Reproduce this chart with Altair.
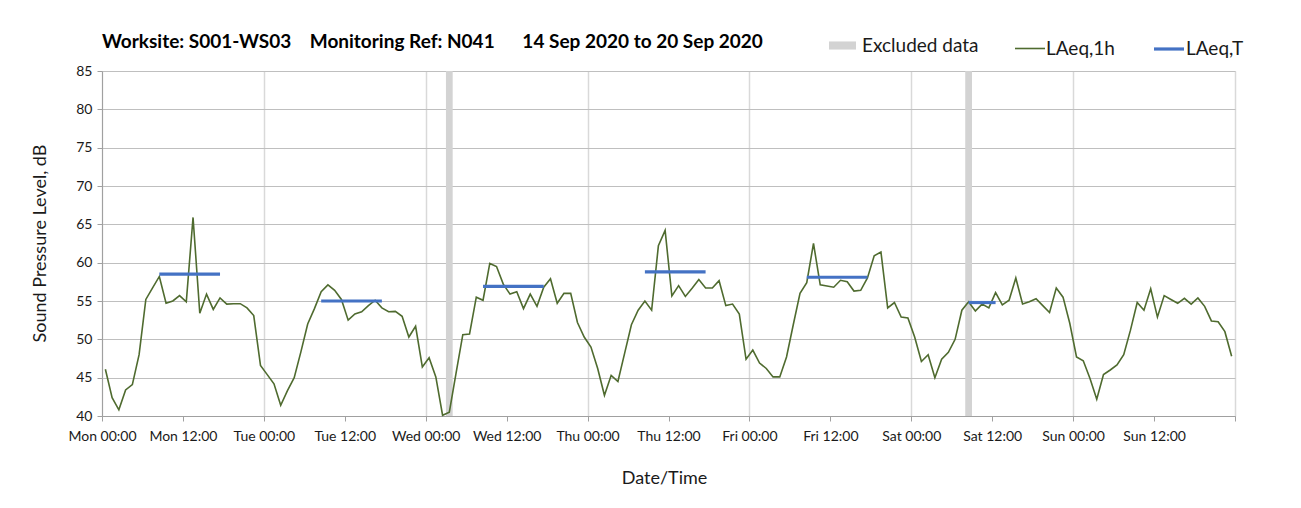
import altair as alt
import pandas as pd

# Hourly LAeq,1h values (dB), Mon 14 Sep 2020 00:00 .. Sun 20 Sep 2020 23:00
mon = [46.1, 42.4, 40.8, 43.4, 44.1, 48.0, 55.2, 56.7, 58.2, 54.7, 55.0, 55.7,
       54.9, 65.9, 53.4, 55.9, 53.9, 55.4, 54.6, 54.65, 54.65, 54.1, 53.1, 46.6]
tue = [45.4, 44.2, 41.4, 43.3, 45.0, 48.4, 52.0, 54.0, 56.2, 57.1, 56.4, 55.2,
       52.5, 53.3, 53.6, 54.4, 55.1, 54.1, 53.6, 53.65, 53.0, 50.3, 51.7, 46.4]
wed = [47.6, 45.1, 40.1, 40.5, 45.6, 50.6, 50.7, 55.5, 55.1, 59.9, 59.5, 57.2,
       55.9, 56.2, 54.0, 55.9, 54.3, 56.8, 57.9, 54.7, 56.0, 56.0, 52.2, 50.3]
thu = [49.0, 46.2, 42.7, 45.3, 44.5, 48.2, 51.9, 53.8, 55.0, 53.8, 62.2, 64.2,
       55.65, 57.0, 55.6, 56.65, 57.8, 56.7, 56.7, 57.65, 54.4, 54.6, 53.3, 47.4]
fri = [48.6, 46.9, 46.2, 45.1, 45.1, 47.7, 51.9, 56.0, 57.4, 62.5, 57.1, 56.95,
       56.8, 57.7, 57.5, 56.3, 56.4, 58.0, 60.9, 61.4, 54.1, 54.8, 52.9, 52.8]
sat = [50.3, 47.1, 48.0, 45.0, 47.4, 48.3, 50.0, 53.8, 54.9, 53.7, 54.6, 54.1,
       56.1, 54.5, 55.1, 58.0, 54.6, 54.9, 55.3, 54.4, 53.5, 56.7, 55.5, 52.1]
sun = [47.7, 47.2, 44.9, 42.2, 45.4, 46.0, 46.65, 48.0, 51.2, 54.8, 53.8, 56.6,
       52.9, 55.7, 55.2, 54.7, 55.35, 54.6, 55.4, 54.3, 52.4, 52.3, 51.0, 47.8]
hourly_levels = mon + tue + wed + thu + fri + sat + sun
hourly_times = pd.date_range("2020-09-14 00:30", periods=len(hourly_levels), freq="h")

# LAeq,T daytime periods (drawn across the hourly points of each period)
period_start = ["2020-09-14T08:30:00", "2020-09-15T08:30:00", "2020-09-16T08:30:00",
                "2020-09-17T08:30:00", "2020-09-18T08:30:00", "2020-09-19T08:30:00"]
period_end = ["2020-09-14T17:30:00", "2020-09-15T17:30:00", "2020-09-16T17:30:00",
              "2020-09-17T17:30:00", "2020-09-18T17:30:00", "2020-09-19T12:30:00"]
period_levels = [58.5, 55.0, 56.9, 58.8, 58.1, 54.8]

# Excluded data hours
excl_start = ["2020-09-16T03:00:00", "2020-09-19T08:00:00"]
excl_end = ["2020-09-16T04:00:00", "2020-09-19T09:00:00"]

y_ticks = [40, 45, 50, 55, 60, 65, 70, 75, 80, 85]
x_ticks = [alt.DateTime(year=2020, month=9, date=14 + k // 2, hours=12 * (k % 2)) for k in range(15)]

FONT = "Lato"
GREEN = "#4F6B2F"
BLUE = "#4472C4"
GREY = "#D3D3D3"

hourly = pd.DataFrame({"start": hourly_times, "level": hourly_levels, "series": "LAeq,1h"})
periods = pd.DataFrame({"start": period_start, "end": period_end, "level": period_levels,
                        "series": "LAeq,T"})
excluded = pd.DataFrame({"start": excl_start, "end": excl_end, "label": "Excluded data"})

x_axis = alt.Axis(
    title="Date/Time",
    values=x_ticks,
    labelExpr="date(datum.value) == 21 ? '' : timeFormat(datum.value, '%a %H:%M')",
    labelFont=FONT, labelFontSize=14, labelColor="#1a1a1a",
    labelFlush=False, labelOverlap=False, labelPadding=8,
    tickSize=5, tickColor="#A0A0A0", domainColor="#A0A0A0",
    grid=True,
    gridColor=alt.condition("hours(datum.value) == 0", alt.value("#D9D9D9"), alt.value("rgba(0,0,0,0)")),
    gridWidth=1.5,
    titleFont=FONT, titleFontSize=18, titleFontWeight="normal", titleColor="#1a1a1a",
    titleBaseline="middle", titleY=62, titleX=562,
)
x_scale = alt.Scale(domain=[alt.DateTime(year=2020, month=9, date=14),
                            alt.DateTime(year=2020, month=9, date=21)])
y_axis = alt.Axis(
    title="Sound Pressure Level, dB",
    values=y_ticks,
    labelFont=FONT, labelFontSize=14, labelColor="#1a1a1a", labelPadding=5,
    tickSize=5, tickColor="#A0A0A0", domainColor="#A0A0A0",
    gridColor="#BFBFBF", gridWidth=1.2,
    titleFont=FONT, titleFontSize=18, titleFontWeight="normal", titleColor="#1a1a1a",
    titleX=-62, titleY=172, titleBaseline="middle", titleAlign="center",
)
y_scale = alt.Scale(domain=[40, 85], nice=False, zero=False)

line_legend = alt.Legend(
    orient="none", legendX=912, legendY=-39, direction="horizontal", title=None,
    symbolType="stroke", symbolSize=900, labelFont=FONT, labelFontSize=19,
    labelColor="#1a1a1a", labelOffset=0, columnPadding=32, padding=0,
)
series_domain = ["LAeq,1h", "LAeq,T"]
color_scale = alt.Scale(domain=series_domain, range=[GREEN, BLUE])
width_scale = alt.Scale(domain=series_domain, range=[1.6, 3.2])

bands = alt.Chart(excluded).mark_rect().encode(
    x=alt.X("start:T", scale=x_scale, axis=x_axis),
    x2="end:T",
    fill=alt.Fill("label:N", scale=alt.Scale(domain=["Excluded data"], range=[GREY]),
                  legend=alt.Legend(orient="none", legendX=727, legendY=-39, title=None,
                                    symbolType="M-1,-0.3H1V0.3H-1Z", symbolSize=729,
                                    symbolStrokeWidth=0, labelFont=FONT, labelFontSize=19,
                                    labelColor="#1a1a1a", labelOffset=6, padding=0)),
)

line = alt.Chart(hourly).mark_line().encode(
    x=alt.X("start:T", scale=x_scale, axis=x_axis),
    y=alt.Y("level:Q", scale=y_scale, axis=y_axis),
    color=alt.Color("series:N", scale=color_scale, legend=line_legend),
    strokeWidth=alt.StrokeWidth("series:O", scale=width_scale, legend=line_legend),
)

rules = alt.Chart(periods).mark_rule(strokeCap="butt").encode(
    x=alt.X("start:T", scale=x_scale, axis=x_axis),
    x2="end:T",
    y=alt.Y("level:Q", scale=y_scale, axis=y_axis),
    color=alt.Color("series:N", scale=color_scale, legend=line_legend),
    strokeWidth=alt.StrokeWidth("series:O", scale=width_scale, legend=line_legend),
)

title_text = ("Worksite: S001-WS03\u00a0\u00a0\u00a0\u00a0Monitoring Ref: N041"
              "\u00a0\u00a0\u00a0\u00a0\u00a0\u00a014 Sep 2020 to 20 Sep 2020")

chart = alt.layer(bands, line, rules).properties(
    width=1133, height=345,
    title=alt.TitleParams(text=title_text, anchor="start", frame="group", font=FONT,
                          fontSize=19, fontWeight="bold", color="#000000", offset=20, dy=40),
    autosize=alt.AutoSizeParams(type="none"),
    padding={"left": 94, "top": 63, "right": 50, "bottom": 80},
).configure_view(stroke=None).configure(background="white")

chart.save("out.html", embed_options={"renderer": "svg", "actions": False})
